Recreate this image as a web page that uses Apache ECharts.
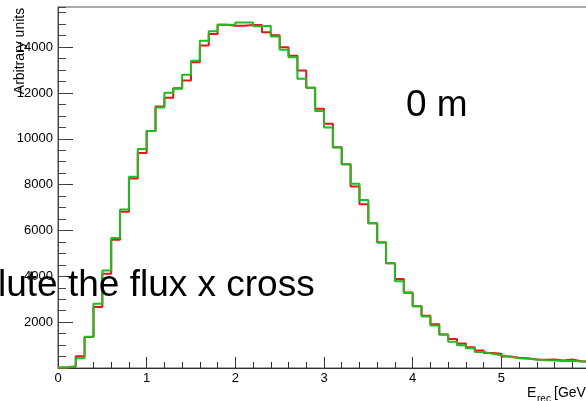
<!DOCTYPE html>
<html>
<head>
<meta charset="utf-8">
<script src="https://cdn.jsdelivr.net/npm/echarts@6/dist/echarts.min.js"></script>
<style>html,body{margin:0;padding:0;background:#fff}#c{width:586px;height:401px}</style>
</head>
<body>
<div id="c"></div>
<script>
// Histogram: 60 bins of width 0.1 GeV from 0 to 6
const binWidth = 0.1;
const xTickLabels = ['0', '1', '2', '3', '4', '5', ''];
const yTickLabels = ['2000', '4000', '6000', '8000', '10000', '12000', '14000'];
const greenHist = [20, 60, 430, 1360, 2800, 4250, 5670, 6920, 8340, 9560,
  10340, 11360, 12010, 12180, 12790, 13410, 14280, 14690, 14980, 14980,
  15070, 15070, 14910, 14930, 14460, 13890, 13560, 12620, 12230, 11210,
  10490, 9620, 8890, 8040, 7330, 6310, 5490, 4570, 3780, 3270,
  2690, 2250, 1850, 1460, 1140, 990, 860, 700, 620, 560,
  490, 430, 400, 370, 340, 330, 310, 320, 285, 280];
const redHist = [20, 80, 510, 1350, 2660, 4110, 5590, 6820, 8270, 9380,
  10340, 11410, 11790, 12210, 12540, 13340, 14070, 14570, 14980, 14930,
  14930, 14960, 14960, 14650, 14520, 13990, 13620, 12980, 12230, 11310,
  10660, 9630, 8890, 7920, 7140, 6310, 5470, 4570, 3880, 3290,
  2690, 2280, 1910, 1460, 1270, 1070, 910, 760, 650, 620,
  500, 450, 430, 370, 360, 370, 330, 370, 290, 280];
const overlayTexts = ['0 m', 'lute the flux x cross'];

function toSteps(h) {
  const pts = h.map((v, i) => [+(i * binWidth).toFixed(2), v]);
  pts.push([+(h.length * binWidth).toFixed(2), h[h.length - 1]]);
  return pts;
}

const FONT = '"Liberation Sans", Arial, Helvetica, sans-serif';
const chart = echarts.init(document.getElementById('c'), null, {renderer: 'canvas'});
chart.setOption({
  animation: false,
  backgroundColor: '#fff',
  grid: {left: 58, top: 7, right: -4, bottom: 33, containLabel: false, outerBoundsMode: 'none',
    show: true, borderColor: '#555', borderWidth: 1, backgroundColor: 'transparent'},
  xAxis: [{
    type: 'value', min: 0, max: 6, interval: 1,
    axisLine: {show: true, lineStyle: {color: '#333', width: 1}},
    axisTick: {show: true, inside: true, length: 11, lineStyle: {color: '#333'}},
    minorTick: {show: true, splitNumber: 5, length: 6, lineStyle: {color: '#333'}},
    splitLine: {show: false}, minorSplitLine: {show: false},
    axisLabel: {margin: 4, color: '#000', fontSize: 13, fontFamily: FONT, hideOverlap: false,
      formatter: v => xTickLabels[Math.round(v)] || ''}
  }],
  yAxis: [{
    type: 'value', min: 0, max: 15750, interval: 2000, position: 'left',
    axisLine: {show: true, lineStyle: {color: '#444', width: 1}},
    axisTick: {show: true, inside: true, length: 15, lineStyle: {color: '#333'}},
    splitLine: {show: false},
    axisLabel: {margin: 5, color: '#000', fontSize: 13, fontFamily: FONT, showMaxLabel: false,
      formatter: v => { const i = Math.round(v / 2000) - 1; return (v % 2000 === 0 && i >= 0 && i < yTickLabels.length) ? yTickLabels[i] : ''; }}
  }, {
    type: 'value', min: 0, max: 15750, interval: 500, position: 'left',
    axisLine: {show: false},
    axisTick: {show: true, inside: true, length: 8, lineStyle: {color: '#444'}},
    splitLine: {show: false},
    axisLabel: {show: false}
  }],
  series: [{
    type: 'line', step: 'end', symbol: 'none', data: toSteps(redHist),
    lineStyle: {color: '#e8141a', width: 2}, z: 2
  }, {
    type: 'line', step: 'end', symbol: 'none', data: toSteps(greenHist),
    lineStyle: {color: '#22bb22', width: 2}, z: 3
  }],
  graphic: [
    {type: 'text', x: 20, y: 51, rotation: Math.PI / 2, z: 100,
      style: {text: 'Arbitrary units', font: '14px ' + FONT, fill: '#000', align: 'center', verticalAlign: 'middle'}},
    {type: 'text', x: 527, y: 393, z: 100,
      style: {text: 'E', font: '14px ' + FONT, fill: '#000', align: 'left', verticalAlign: 'middle'}},
    {type: 'text', x: 537, y: 399, z: 100,
      style: {text: 'rec', font: '10px ' + FONT, fill: '#000', align: 'left', verticalAlign: 'middle'}},
    {type: 'text', x: 554, y: 393, z: 100,
      style: {text: '[GeV]', font: '14px ' + FONT, fill: '#000', align: 'left', verticalAlign: 'middle'}},
    {type: 'text', x: 406, y: 105.5, z: 100,
      style: {text: overlayTexts[0], font: '37px ' + FONT, fill: '#000', align: 'left', verticalAlign: 'middle'}},
    {type: 'text', x: -2, y: 286, z: 100,
      style: {text: overlayTexts[1], font: '37px ' + FONT, fill: '#000', align: 'left', verticalAlign: 'middle'}}
  ]
});
</script>
</body>
</html>
